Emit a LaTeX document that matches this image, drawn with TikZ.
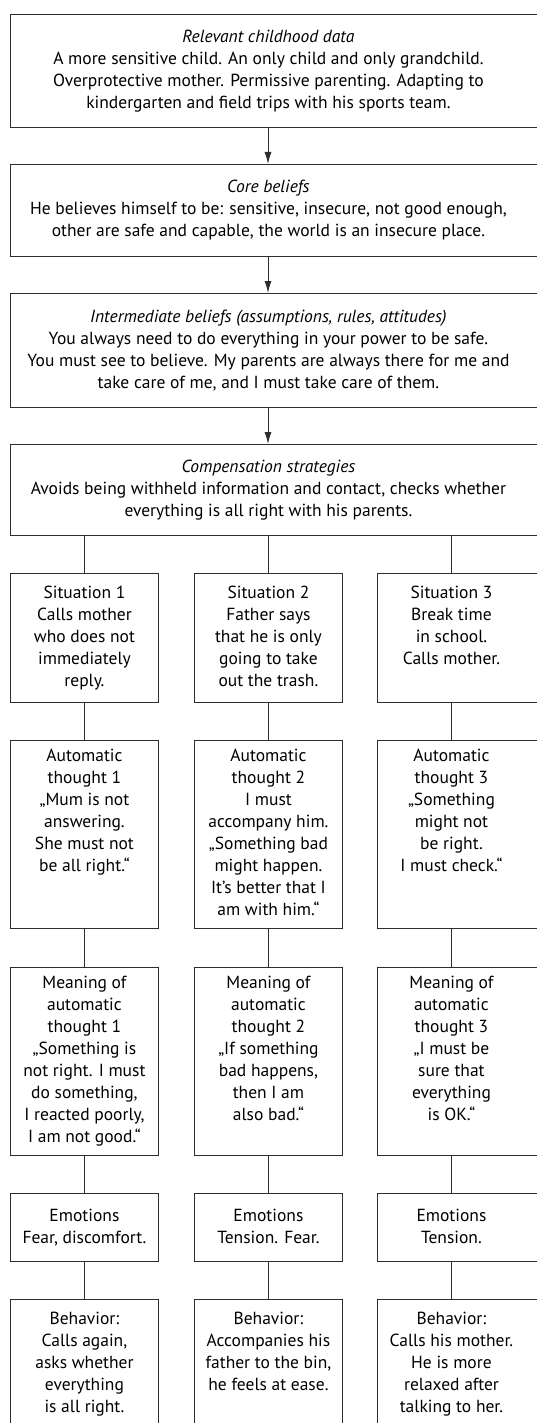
\documentclass[tikz,border=0pt]{standalone}
\usepackage{fontspec}
\setmainfont{PT Sans}
\usetikzlibrary{arrows.meta}
\definecolor{frame}{RGB}{45,45,45}

% text of a column box: width, cut on the right, height, top pad, text
\newcommand{\cellbox}[5]{\parbox[t][#3][t]{#1}{\centering\rightskip=#2 plus 1fil\vspace*{#4}\strut#5}}
% text of a wide box: height, text
\newcommand{\widebox}[2]{\parbox[c][#1][c]{535pt}{\centering\rightskip=19pt plus 1fil #2}}

\tikzset{
	cell/.style={draw=frame,line width=0.9pt,anchor=north west,inner sep=0pt},
	link/.style={draw=frame,line width=0.9pt},
	arrow/.style={link,-{Latex[length=12pt,width=7pt]}}
}

\begin{document}
\begin{tikzpicture}[x=1pt,y=-1pt,font=\fontsize{17.5}{22}\selectfont]
	\useasboundingbox (0,0) rectangle (536,1423);
	\coordinate (c1) at (84,0);
	\coordinate (c2) at (268,0);
	\coordinate (c3) at (451,0);

	\node[cell] (childhood) at (10,14) {\widebox{113pt}{\textit{Relevant childhood data}\\A more sensitive child. An only child and only grandchild.\\Overprotective mother. Permissive parenting. Adapting to\\kindergarten and field trips with his sports team.}};
	\node[cell] (core) at (10,164) {\widebox{92pt}{\textit{Core beliefs}\\He believes himself to be: sensitive, insecure, not good enough,\\other are safe and capable, the world is an insecure place.}};
	\node[cell] (intermediate) at (10,293) {\widebox{114pt}{\textit{Intermediate beliefs (assumptions, rules, attitudes)}\\You always need to do everything in your power to be safe.\\You must see to believe. My parents are always there for me and\\take care of me, and I must take care of them.}};
	\node[cell] (compensation) at (10,444) {\widebox{91pt}{\textit{Compensation strategies}\\Avoids being withheld information and contact, checks whether\\everything is all right with his parents.}};

	\node[cell] (sit1) at (10,573) {\cellbox{148pt}{0pt}{129pt}{9.6pt}{Situation 1\\Calls mother\\who does not\\immediately\\reply.}};
	\node[cell] (sit2) at (194,573) {\cellbox{148pt}{0pt}{129pt}{9.6pt}{Situation 2\\Father says\\that he is only\\going to take\\out the trash.}};
	\node[cell] (sit3) at (377,573) {\cellbox{168pt}{20pt}{129pt}{9.6pt}{Situation 3\\Break time\\in school.\\Calls mother.}};

	\node[cell] (auto1) at (10,740) {\cellbox{148pt}{0pt}{188pt}{5.6pt}{Automatic\\thought 1\\„Mum is not\\answering.\\She must not\\be all right.“}};
	\node[cell] (auto2) at (194,740) {\cellbox{148pt}{0pt}{188pt}{5.6pt}{Automatic\\thought 2\\I must\\accompany him.\\„Something bad\\might happen.\\It’s better that I\\am with him.“}};
	\node[cell] (auto3) at (377,740) {\cellbox{168pt}{20pt}{188pt}{5.6pt}{Automatic\\thought 3\\„Something\\might not\\be right.\\I must check.“}};

	\node[cell] (mean1) at (10,967) {\cellbox{148pt}{0pt}{188pt}{5.6pt}{Meaning of\\automatic\\thought 1\\„Something is\\not right. I must\\do something,\\I reacted poorly,\\I am not good.“}};
	\node[cell] (mean2) at (194,967) {\cellbox{148pt}{0pt}{188pt}{5.6pt}{Meaning of\\automatic\\thought 2\\„If something\\bad happens,\\then I am\\also bad.“}};
	\node[cell] (mean3) at (377,967) {\cellbox{168pt}{20pt}{188pt}{5.6pt}{Meaning of\\automatic\\thought 3\\„I must be\\sure that\\everything\\is OK.“}};

	\node[cell] (emo1) at (10,1193) {\cellbox{148pt}{0pt}{68pt}{12.6pt}{Emotions\\Fear, discomfort.}};
	\node[cell] (emo2) at (194,1193) {\cellbox{148pt}{0pt}{68pt}{12.6pt}{Emotions\\Tension. Fear.}};
	\node[cell] (emo3) at (377,1193) {\cellbox{168pt}{20pt}{68pt}{12.6pt}{Emotions\\Tension.}};

	\node[cell] (beh1) at (10,1299) {\cellbox{148pt}{0pt}{145pt}{9.6pt}{Behavior:\\Calls again,\\asks whether\\everything\\is all right.}};
	\node[cell] (beh2) at (194,1299) {\cellbox{148pt}{0pt}{145pt}{9.6pt}{Behavior:\\Accompanies his\\father to the bin,\\he feels at ease.}};
	\node[cell] (beh3) at (377,1299) {\cellbox{168pt}{20pt}{145pt}{9.6pt}{Behavior:\\Calls his mother.\\He is more\\relaxed after\\talking to her.}};

	\foreach \a/\b in {childhood/core,core/intermediate,intermediate/compensation}
		\draw[arrow] (\a.south -| c2) -- (\b.north -| c2);

	\foreach \c in {1,2,3} {
		\draw[link] (compensation.south -| c\c) -- (sit\c.north -| c\c);
		\draw[link] (sit\c.south -| c\c) -- (auto\c.north -| c\c);
		\draw[link] (auto\c.south -| c\c) -- (mean\c.north -| c\c);
		\draw[link] (mean\c.south -| c\c) -- (emo\c.north -| c\c);
		\draw[link] (emo\c.south -| c\c) -- (beh\c.north -| c\c);
	}
\end{tikzpicture}
\end{document}
